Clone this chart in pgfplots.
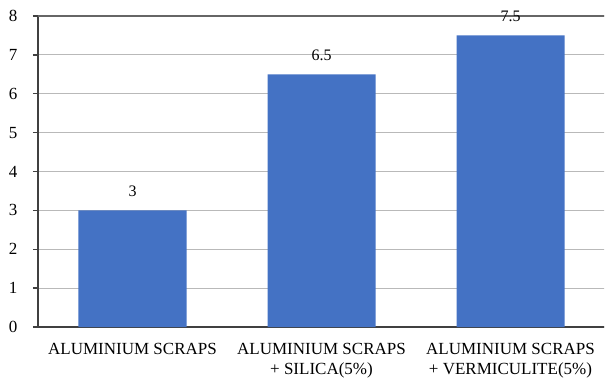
\documentclass[border=0pt]{standalone}
\usepackage{fontspec}
\setmainfont{Liberation Serif}
\usepackage{pgfplots}
\pgfplotsset{compat=1.18}
\definecolor{barblue}{HTML}{4472C4}
\begin{document}
\begin{tikzpicture}
\useasboundingbox (-38pt,-56pt) rectangle (567pt,327pt);
\clip (-38pt,-56pt) rectangle (566pt,327pt);
\begin{axis}[
  at={(0,0)}, anchor=south west,
  scale only axis, width=567pt, height=311pt,
  xmin=-0.5, xmax=2.5, ymin=0, ymax=8,
  ytick={0,...,8},
  xtick={0,1,2},
  xticklabels={ALUMINIUM SCRAPS, {ALUMINIUM SCRAPS\\+ SILICA(5\%)}, {ALUMINIUM SCRAPS\\+ VERMICULITE(5\%)}},
  xticklabel style={align=center, font=\fontsize{17}{20}\selectfont, yshift=-8pt},
  yticklabel style={font=\fontsize{17}{18}\selectfont, xshift=-12pt},
  /pgf/number format/assume math mode=true,
  ymajorgrids, grid style={gray!55, line width=1.2pt},
  axis x line*=bottom, axis y line*=left,
  axis line style={black!75, line width=1.3pt, -},
  x tick style={draw=none},
  y tick style={black!75, line width=1.3pt},
  tick align=outside, major tick length=5pt,
  ybar, bar width=108pt,
  nodes near coords, nodes near coords style={font=\fontsize{16}{18}\selectfont, yshift=10pt},
  clip=false,
]
\addplot[fill=barblue, draw=none] coordinates {(0,3) (1,6.5) (2,7.5)};
\draw[black!60, line width=1.5pt] (axis cs:-0.5,8) -- (axis cs:2.5,8);
\end{axis}
\end{tikzpicture}
\end{document}
